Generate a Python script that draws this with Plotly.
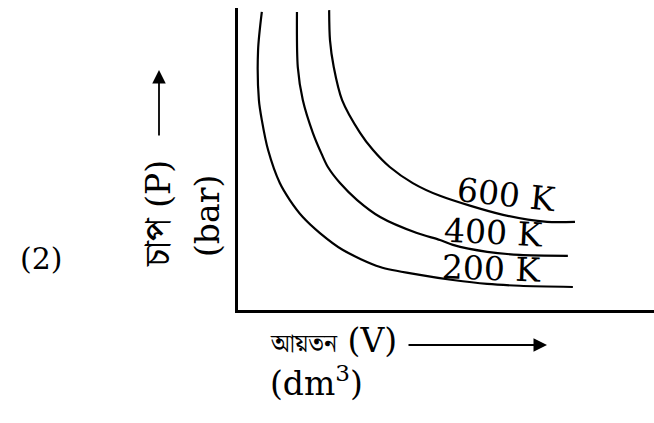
import plotly.graph_objects as go

# ---- data (volume, pressure in arbitrary units) ----
temperatures = ["200 K", "400 K", "600 K"]

v_200 = [0.62, 0.53, 0.55, 0.62, 0.77, 1.05, 1.29, 1.60, 2.01, 2.56, 3.45, 4.40, 5.19, 6.01, 6.79, 8.06]
p_200 = [9.87, 8.61, 6.96, 6.30, 5.31, 4.22, 3.66, 3.10, 2.57, 2.01, 1.45, 1.19, 1.02, 0.89, 0.83, 0.79]

v_400 = [1.46, 1.48, 1.60, 1.84, 2.06, 2.20, 2.49, 2.90, 3.45, 4.33, 4.88, 5.19, 6.01, 6.79, 7.94]
p_400 = [9.87, 8.05, 6.96, 5.88, 5.15, 4.75, 4.22, 3.66, 3.10, 2.57, 2.34, 2.18, 1.95, 1.85, 1.82]

v_600 = [2.23, 2.25, 2.34, 2.54, 2.97, 3.28, 3.68, 4.23, 4.88, 6.39, 7.44, 8.11]
p_600 = [9.93, 8.94, 8.05, 6.96, 5.88, 5.31, 4.75, 4.22, 3.80, 3.17, 2.94, 2.94]

y_title_bn = "চাপ"
y_title_sym = "(P)"
y_unit = "(bar)"
x_title_bn = "আয়তন"
x_title_sym = "(V)"
x_unit = "(dm<sup>3</sup>)"
panel_label = "(2)"

# ---- layout geometry (pixels) ----
W, H = 654, 423
L, R, T, B = 238, 0, 8, 113
PW, PH = W - L - R, H - T - B


def fx(px):
    return (px - L) / PW


def fy(py):
    return (H - B - py) / PH


FONT = "DejaVu Serif, Liberation Serif, serif"
BN_FONT = "Noto Serif Bengali, Lohit Bengali, FreeSerif, Noto Sans Bengali, serif"
FS = 33


def bn(text, size):
    return f"<span style=\"font-family:{BN_FONT};font-size:{size}px\">{text}</span>"


fig = go.Figure()
for v, p in [(v_200, p_200), (v_400, p_400), (v_600, p_600)]:
    fig.add_trace(go.Scatter(x=v, y=p, mode="lines",
                             line=dict(color="black", width=2.2, shape="spline", smoothing=0.8),
                             hoverinfo="skip", showlegend=False))

label_pos = {"600 K": (506, 194, 6), "400 K": (493, 233, 3), "200 K": (491, 268, 2)}
ann = []
for t in temperatures:
    x, y, ang = label_pos[t]
    ann.append(dict(x=fx(x), y=fy(y), xref="paper", yref="paper", text=t, showarrow=False,
                    textangle=ang, font=dict(family=FONT, size=FS, color="black"),
                    xanchor="center", yanchor="middle"))

# axis titles
ann.append(dict(x=fx(160), y=fy(214), xref="paper", yref="paper",
                text=f"{bn(y_title_bn, 36)} {y_title_sym}",
                showarrow=False, textangle=-90, font=dict(family=FONT, size=FS, color="black"),
                xanchor="center", yanchor="middle"))
ann.append(dict(x=fx(207), y=fy(216), xref="paper", yref="paper", text=y_unit, showarrow=False,
                textangle=-90, font=dict(family=FONT, size=FS, color="black"),
                xanchor="center", yanchor="middle"))
ann.append(dict(x=fx(268), y=fy(343), xref="paper", yref="paper",
                text=f"{bn(x_title_bn, 25)} {x_title_sym}",
                showarrow=False, font=dict(family=FONT, size=FS, color="black"),
                xanchor="left", yanchor="middle"))
ann.append(dict(x=fx(268), y=fy(382), xref="paper", yref="paper", text=x_unit, showarrow=False,
                font=dict(family=FONT, size=FS, color="black"),
                xanchor="left", yanchor="middle"))
ann.append(dict(x=fx(41), y=fy(258), xref="paper", yref="paper", text=panel_label, showarrow=False,
                font=dict(family=FONT, size=30, color="black"),
                xanchor="center", yanchor="middle"))

# arrows
ann.append(dict(x=fx(547), y=fy(345), xref="paper", yref="paper", text="", showarrow=True,
                ax=-140, ay=0, arrowhead=2, arrowsize=1.5, arrowwidth=1.8, arrowcolor="black",
                standoff=0, startstandoff=0))
ann.append(dict(x=fx(159), y=fy(70), xref="paper", yref="paper", text="", showarrow=True,
                ax=0, ay=67, arrowhead=2, arrowsize=1.5, arrowwidth=1.8, arrowcolor="black",
                standoff=0, startstandoff=0))

fig.update_layout(
    width=W, height=H,
    margin=dict(l=L, r=R, t=T, b=B, pad=0),
    paper_bgcolor="white", plot_bgcolor="white",
    xaxis=dict(range=[0.05, 10], showline=True, linecolor="black", linewidth=3,
               showgrid=False, zeroline=False, showticklabels=False, ticks="", fixedrange=True),
    yaxis=dict(range=[0.03, 10], showline=True, linecolor="black", linewidth=3,
               showgrid=False, zeroline=False, showticklabels=False, ticks="", fixedrange=True),
    annotations=ann,
)

fig.write_html("out.html", config={"displayModeBar": False},
               post_script="document.body.style.margin='0px';document.body.style.overflow='hidden';")
